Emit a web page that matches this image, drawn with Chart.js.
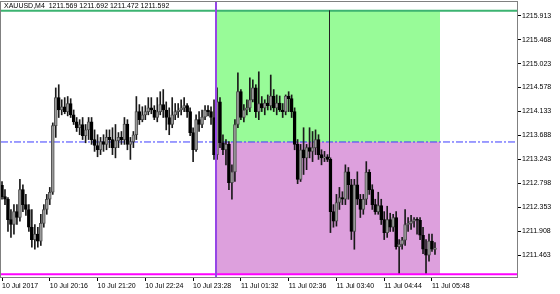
<!DOCTYPE html>
<html>
<head>
<meta charset="utf-8">
<script src="https://cdn.jsdelivr.net/npm/chart.js@4.4.1/dist/chart.umd.min.js"></script>
<style>
html, body { margin: 0; padding: 0; background: #fff; }
canvas { display: block; }
</style>
</head>
<body>
<canvas id="chart" width="560" height="294"></canvas>
<script>
// XAUUSD M4 bars, 10 Jul 19:12 .. 11 Jul 05:52
const symbol = 'XAUUSD,M4';

const opens = [1212.76, 1212.55, 1212.50, 1212.12, 1212.03, 1212.27, 1212.16, 1212.68, 1212.40, 1212.31,
    1211.98, 1211.75, 1211.85, 1211.72, 1212.05, 1212.31, 1212.50, 1212.63, 1213.87, 1214.39,
    1214.16, 1214.22, 1214.13, 1214.28, 1214.07, 1213.94, 1213.83, 1213.89, 1213.68, 1213.79,
    1213.94, 1213.61, 1213.50, 1213.42, 1213.57, 1213.52, 1213.65, 1213.61, 1213.46, 1213.59,
    1213.65, 1213.61, 1213.90, 1213.52, 1213.57, 1213.70, 1214.13, 1213.98, 1214.07, 1214.13,
    1214.20, 1214.16, 1214.02, 1214.13, 1214.26, 1214.16, 1214.02, 1213.89, 1214.07, 1214.13,
    1214.16, 1214.20, 1214.24, 1214.13, 1213.74, 1213.42, 1213.98, 1213.89, 1214.03, 1214.16,
    1214.13, 1214.02, 1213.33, 1214.31, 1213.55, 1213.42, 1213.52, 1212.81, 1213.01, 1213.89,
    1214.50, 1214.02, 1214.16, 1214.20, 1214.35, 1214.57, 1214.13, 1214.28, 1214.20, 1214.29,
    1214.24, 1214.42, 1214.20, 1214.29, 1214.16, 1214.13, 1214.42, 1214.37, 1214.13, 1213.52,
    1212.87, 1213.42, 1213.27, 1213.46, 1213.39, 1213.46, 1213.61, 1213.33, 1213.27, 1213.29,
    1213.24, 1212.27, 1212.09, 1212.44, 1212.53, 1212.50, 1213.01, 1212.77, 1211.90, 1212.77,
    1212.50, 1212.31, 1212.50, 1213.00, 1212.68, 1212.40, 1212.27, 1212.38, 1212.12, 1211.88,
    1212.12, 1211.98, 1212.16, 1211.62, 1211.66, 1211.74, 1212.03, 1212.05, 1212.09, 1212.12,
    1212.11, 1211.83, 1211.57, 1211.46, 1211.72, 1211.569];

const highs = [1212.83, 1212.68, 1212.53, 1212.31, 1212.40, 1212.40, 1212.87, 1212.77, 1212.59, 1212.40,
    1212.31, 1212.03, 1211.98, 1212.22, 1212.40, 1212.59, 1212.72, 1213.92, 1214.57, 1214.63,
    1214.35, 1214.39, 1214.41, 1214.37, 1214.16, 1214.02, 1213.98, 1214.02, 1213.89, 1214.02,
    1214.02, 1213.79, 1213.70, 1213.65, 1213.70, 1213.79, 1213.79, 1213.83, 1213.89, 1213.74,
    1213.76, 1214.02, 1213.98, 1213.65, 1213.76, 1214.41, 1214.26, 1214.22, 1214.24, 1214.39,
    1214.39, 1214.24, 1214.39, 1214.50, 1214.54, 1214.31, 1214.20, 1214.39, 1214.28, 1214.28,
    1214.35, 1214.39, 1214.28, 1214.20, 1213.83, 1214.07, 1214.13, 1214.16, 1214.24, 1214.24,
    1214.22, 1214.35, 1214.57, 1214.39, 1213.70, 1213.61, 1213.57, 1213.14, 1213.98, 1214.85,
    1214.54, 1214.26, 1214.35, 1214.76, 1214.72, 1214.63, 1214.87, 1214.41, 1214.35, 1214.44,
    1214.81, 1214.54, 1214.44, 1214.42, 1214.28, 1214.44, 1214.50, 1214.44, 1214.20, 1213.61,
    1213.52, 1213.83, 1213.52, 1213.83, 1213.76, 1213.79, 1213.70, 1213.42, 1213.39, 1213.33,
    1213.27, 1212.40, 1212.59, 1212.72, 1212.64, 1213.14, 1213.09, 1212.87, 1212.87, 1213.01,
    1212.59, 1212.59, 1213.20, 1213.05, 1212.77, 1212.50, 1212.63, 1212.50, 1212.27, 1212.37,
    1212.24, 1212.22, 1212.27, 1211.75, 1211.79, 1212.31, 1212.16, 1212.20, 1212.16, 1212.16,
    1212.16, 1211.98, 1211.75, 1211.85, 1211.85, 1211.692];

const lows = [1212.50, 1212.40, 1211.90, 1211.79, 1211.85, 1212.03, 1212.09, 1212.27, 1212.20, 1211.90,
    1211.61, 1211.57, 1211.61, 1211.64, 1211.98, 1212.22, 1212.40, 1212.59, 1213.65, 1214.02,
    1214.07, 1214.09, 1214.05, 1214.02, 1213.89, 1213.76, 1213.70, 1213.61, 1213.55, 1213.61,
    1213.52, 1213.39, 1213.29, 1213.33, 1213.39, 1213.42, 1213.46, 1213.33, 1213.27, 1213.46,
    1213.52, 1213.52, 1213.42, 1213.24, 1213.46, 1213.61, 1213.89, 1213.94, 1213.98, 1214.07,
    1214.09, 1213.98, 1213.94, 1214.07, 1214.02, 1213.79, 1213.70, 1213.83, 1213.98, 1214.02,
    1214.07, 1214.13, 1214.02, 1213.68, 1213.20, 1213.39, 1213.76, 1213.83, 1213.98, 1214.05,
    1213.89, 1213.24, 1213.24, 1213.46, 1213.33, 1213.14, 1212.68, 1212.50, 1212.83, 1213.83,
    1213.98, 1213.94, 1214.07, 1214.13, 1214.31, 1214.02, 1213.98, 1214.13, 1214.07, 1214.16,
    1214.16, 1214.13, 1214.07, 1214.13, 1214.02, 1214.07, 1214.13, 1214.02, 1213.42, 1212.79,
    1212.83, 1212.96, 1213.05, 1213.27, 1213.20, 1213.33, 1213.24, 1213.14, 1213.20, 1213.20,
    1211.88, 1211.98, 1212.00, 1212.31, 1212.40, 1212.40, 1212.50, 1211.75, 1211.57, 1212.40,
    1212.16, 1212.22, 1212.40, 1212.59, 1212.31, 1212.22, 1212.22, 1212.03, 1211.75, 1211.79,
    1211.90, 1211.90, 1211.57, 1211.11, 1211.57, 1211.64, 1211.90, 1211.94, 1211.98, 1211.85,
    1211.75, 1211.49, 1211.11, 1211.35, 1211.53, 1211.472];

const closes = [1212.55, 1212.50, 1212.12, 1212.03, 1212.27, 1212.16, 1212.68, 1212.40, 1212.31, 1211.98,
    1211.75, 1211.85, 1211.72, 1212.05, 1212.31, 1212.50, 1212.63, 1213.87, 1214.39, 1214.16,
    1214.22, 1214.13, 1214.28, 1214.07, 1213.94, 1213.83, 1213.89, 1213.68, 1213.79, 1213.94,
    1213.61, 1213.50, 1213.42, 1213.57, 1213.52, 1213.65, 1213.61, 1213.46, 1213.59, 1213.65,
    1213.61, 1213.90, 1213.52, 1213.57, 1213.70, 1214.13, 1213.98, 1214.07, 1214.13, 1214.20,
    1214.16, 1214.02, 1214.13, 1214.26, 1214.16, 1214.02, 1213.89, 1214.07, 1214.13, 1214.16,
    1214.20, 1214.24, 1214.13, 1213.74, 1213.42, 1213.98, 1213.89, 1214.03, 1214.16, 1214.13,
    1214.02, 1213.33, 1214.31, 1213.55, 1213.42, 1213.52, 1212.81, 1213.01, 1213.89, 1214.50,
    1214.02, 1214.16, 1214.20, 1214.35, 1214.57, 1214.13, 1214.28, 1214.20, 1214.29, 1214.24,
    1214.42, 1214.20, 1214.29, 1214.16, 1214.13, 1214.42, 1214.37, 1214.13, 1213.52, 1212.87,
    1213.42, 1213.27, 1213.46, 1213.39, 1213.46, 1213.61, 1213.33, 1213.27, 1213.29, 1213.24,
    1212.27, 1212.09, 1212.44, 1212.53, 1212.50, 1213.01, 1212.77, 1211.90, 1212.77, 1212.50,
    1212.31, 1212.50, 1213.00, 1212.68, 1212.40, 1212.27, 1212.38, 1212.12, 1211.88, 1212.12,
    1211.98, 1212.16, 1211.62, 1211.66, 1211.74, 1212.03, 1212.05, 1212.09, 1212.12, 1212.11,
    1211.83, 1211.57, 1211.46, 1211.72, 1211.57, 1211.592];

const yTicks = [1211.463, 1211.908, 1212.353, 1212.798, 1213.243, 1213.688,
    1214.133, 1214.578, 1215.023, 1215.468, 1215.913];
const xTickBars = [0, 16, 32, 48, 64, 80, 96, 112, 128, 144];
const xTickLabels = ['10 Jul 2017', '10 Jul 20:16', '10 Jul 21:20', '10 Jul 22:24', '10 Jul 23:28',
    '11 Jul 01:32', '11 Jul 02:36', '11 Jul 03:40', '11 Jul 04:44', '11 Jul 05:48'];

// levels drawn on the chart
const levelHigh = 1216.006;
const levelMid = 1213.565;
const levelLow = 1211.104;
const boxStart = 71.67;
const boxEnd = 146.7;
const markerBar = 109.68;
const markerLow = 1213.27;

const yMin = 1211.054, yMax = 1216.168;
const xMin = -0.335, xMax = 172.47;

const bars = closes.map((c, i) => i);

function hLine(y, color, width, dash, order) {
    return {
        type: 'line',
        data: [{ x: xMin, y: y }, { x: xMax, y: y }],
        borderColor: color, borderWidth: width, borderDash: dash,
        pointRadius: 0, fill: false, order: order
    };
}

// frame + symbol line in the top left corner
const chartFrame = {
    id: 'chartFrame',
    afterDraw(chart) {
        const { ctx, chartArea: a } = chart;
        const n = closes.length - 1;
        ctx.save();
        ctx.strokeStyle = '#808080';
        ctx.lineWidth = 1;
        ctx.strokeRect(a.left - 0.5, a.top - 0.5, a.right - a.left + 1, a.bottom - a.top + 1);
        ctx.fillStyle = '#000';
        ctx.font = '7px "Liberation Sans"';
        ctx.textBaseline = 'middle';
        const txt = symbol + '  ' + [opens[n], highs[n], lows[n], closes[n]].map(v => v.toFixed(3)).join(' ');
        ctx.fillText(txt, a.left + 3, a.top + 4);
        ctx.restore();
    }
};

const axisFont = { family: 'Liberation Sans', size: 7 };

new Chart(document.getElementById('chart'), {
    type: 'bar',
    data: {
        datasets: [
            {
                type: 'line',
                data: [{ x: boxStart, y: levelHigh }, { x: boxEnd, y: levelHigh }],
                borderWidth: 0, pointRadius: 0,
                fill: { value: levelMid }, backgroundColor: '#98fb98', order: 20
            },
            {
                type: 'line',
                data: [{ x: boxStart, y: levelLow }, { x: boxEnd, y: levelLow }],
                borderWidth: 0, pointRadius: 0,
                fill: { value: levelMid }, backgroundColor: '#dda0dd', order: 20
            },
            hLine(levelHigh, '#3cb371', 2, [], 10),
            hLine(levelMid, '#3c3cff', 1, [7, 2, 2, 2], 10),
            {
                data: bars.map(i => ({ x: i, y: [lows[i], highs[i]] })),
                backgroundColor: '#1a1a1a', barThickness: 1, grouped: false, order: 3
            },
            {
                data: bars.map(i => ({ x: i, y: [opens[i], closes[i]] })),
                backgroundColor: bars.map(i => closes[i] >= opens[i] ? '#9a9a9a' : '#000000'),
                borderColor: bars.map(i => closes[i] >= opens[i] ? '#505050' : '#000000'),
                borderWidth: 1, borderSkipped: false,
                barThickness: 3, minBarLength: 1, grouped: false, order: 2
            },
            hLine(levelLow, '#ff00ff', 2, [], 1),
            {
                type: 'line',
                data: [{ x: markerBar, y: levelHigh }, { x: markerBar, y: markerLow }],
                borderColor: '#222', borderWidth: 1, pointRadius: 0, fill: false, order: 1
            },
            {
                type: 'line',
                data: [{ x: boxStart, y: yMax }, { x: boxStart, y: yMin }],
                borderColor: '#9646e6', borderWidth: 2, pointRadius: 0, fill: false, order: 0
            }
        ]
    },
    options: {
        responsive: false,
        animation: false,
        layout: { padding: { top: 2, left: 1, right: 0, bottom: 0 } },
        plugins: { legend: { display: false }, tooltip: { enabled: false } },
        scales: {
            x: {
                type: 'linear', min: xMin, max: xMax, offset: false,
                afterBuildTicks: s => { s.ticks = xTickBars.map(v => ({ value: v })); },
                afterFit: s => { s.height = 17; s.paddingLeft = 0; s.paddingRight = 0; },
                grid: { drawOnChartArea: false, drawTicks: true, tickLength: 4, color: '#000', offset: false },
                border: { display: true, color: '#808080' },
                ticks: {
                    autoSkip: false, maxRotation: 0, align: 'start', padding: 1,
                    color: '#000', font: axisFont,
                    callback: (v, i) => xTickLabels[i]
                }
            },
            y: {
                position: 'right', min: yMin, max: yMax,
                afterBuildTicks: s => { s.ticks = yTicks.map(v => ({ value: v })); },
                afterFit: s => { s.width = 43; s.paddingTop = 0; s.paddingBottom = 0; },
                grid: { drawOnChartArea: false, drawTicks: true, tickLength: 4, color: '#000' },
                border: { display: true, color: '#808080' },
                ticks: {
                    autoSkip: false, padding: 1, color: '#000', font: axisFont,
                    callback: v => Number(v).toFixed(3)
                }
            }
        }
    },
    plugins: [chartFrame]
});
</script>
</body>
</html>
